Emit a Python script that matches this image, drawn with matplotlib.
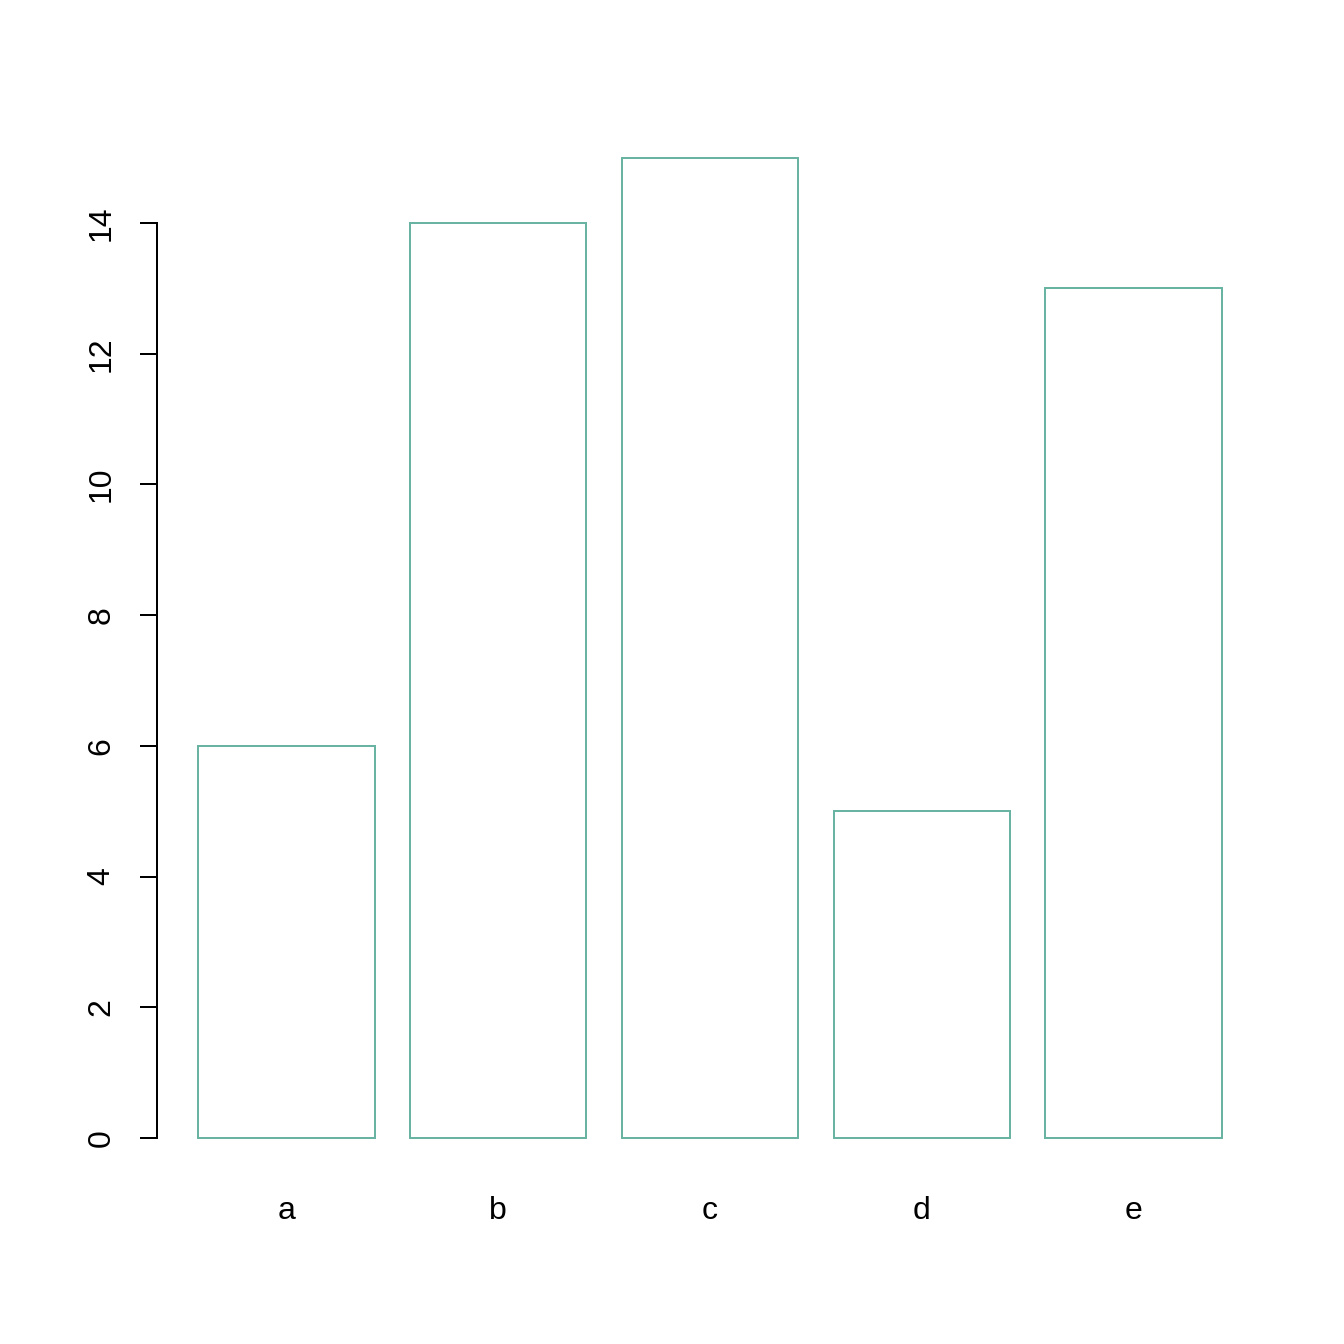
import matplotlib.pyplot as plt

# Data
categories = ['a', 'b', 'c', 'd', 'e']
values = [6, 14, 15, 5, 13]
y_ticks = [0, 2, 4, 6, 8, 10, 12, 14]

plt.rcParams['font.family'] = ['Liberation Sans', 'DejaVu Sans']

fig = plt.figure(figsize=(7, 7), dpi=192)
ax = fig.add_axes([157 / 1344, 1 - 1177.2 / 1344, (1263 - 157) / 1344, (1177.2 - 118.4) / 1344])

# R barplot layout: width 1, space 0.2
x_left = [0.2 + i * 1.2 for i in range(len(categories))]
centers = [x + 0.5 for x in x_left]

ax.bar(x_left, values, width=1.0, align='edge',
       facecolor='white', edgecolor='#69b3a2', linewidth=0.75)

ax.set_xlim(-0.032, 6.232)
ax.set_ylim(-0.6, 15.6)

for side in ['top', 'right', 'bottom']:
    ax.spines[side].set_visible(False)
ax.spines['left'].set_bounds(0, 14)
ax.spines['left'].set_linewidth(0.75)

ax.set_yticks(y_ticks)
ax.set_yticklabels([str(t) for t in y_ticks], rotation=90, va='center', fontsize=12)
ax.tick_params(axis='y', length=6.5, width=0.75, pad=8.6)

ax.set_xticks(centers)
ax.set_xticklabels(categories, fontsize=12)
ax.tick_params(axis='x', length=0, pad=7)

fig.savefig('out.png', dpi=192)
